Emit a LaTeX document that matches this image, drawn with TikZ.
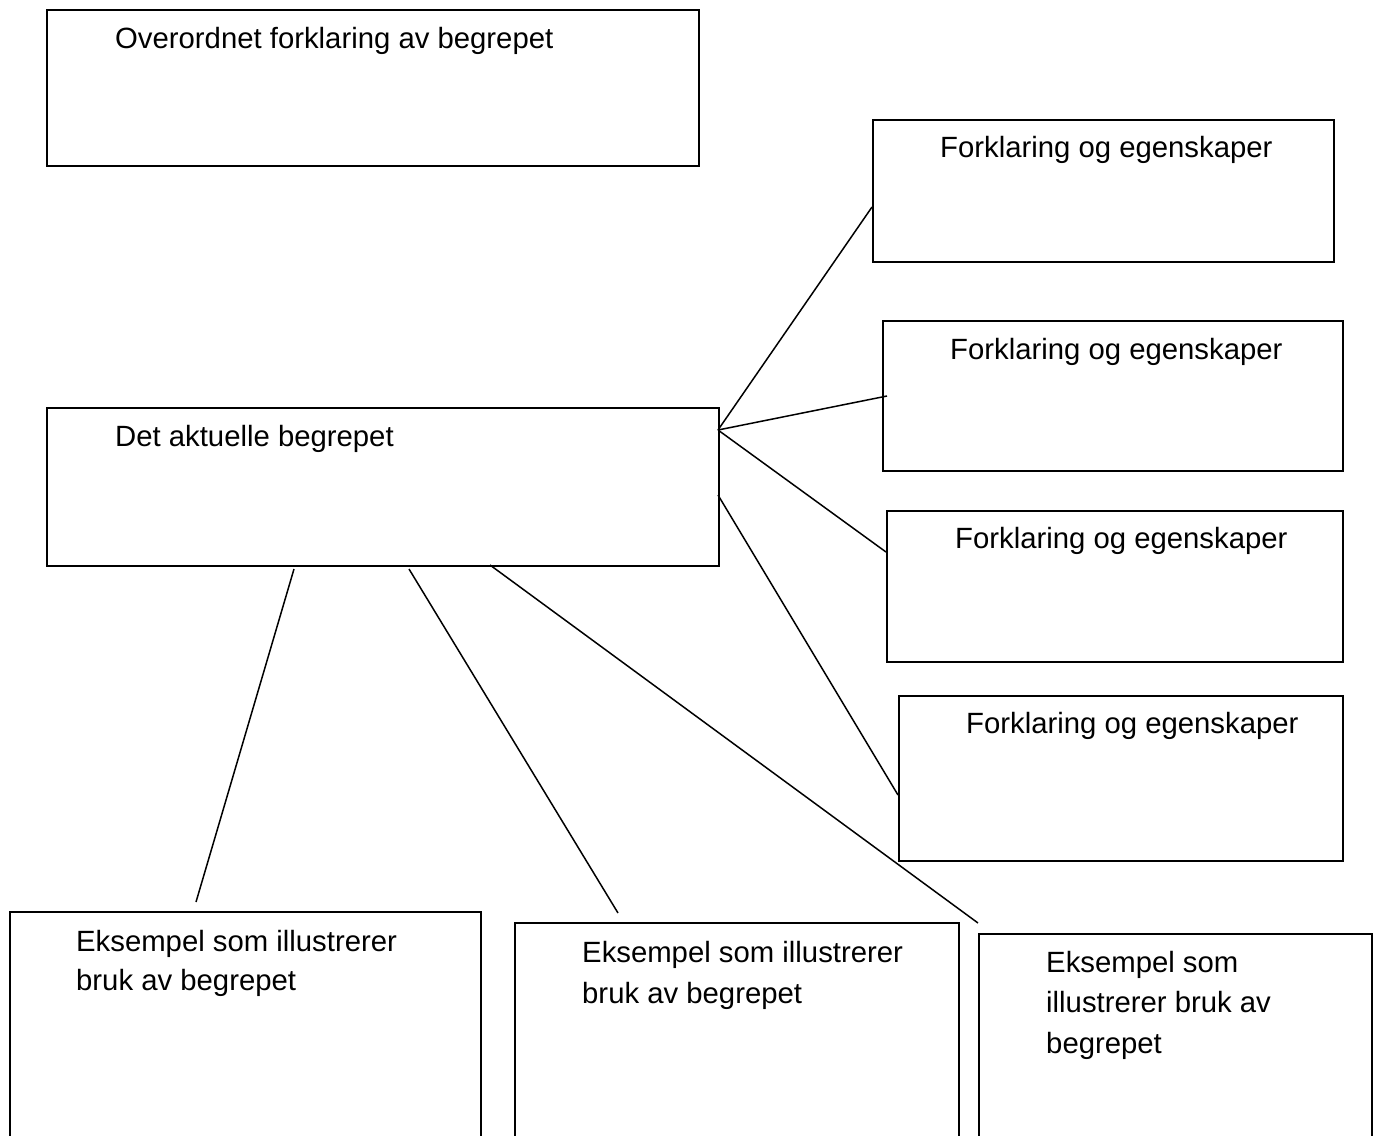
\documentclass[tikz,border=0pt]{standalone}
\usepackage{fontspec}
\setmainfont{Liberation Sans}
\begin{document}
\begin{tikzpicture}[x=1pt,y=-1pt,
  box/.style={draw, line width=1.5pt, inner sep=0pt, anchor=north west},
  lbl/.style={anchor=base west, inner sep=0pt, font=\fontsize{29.3}{35}\selectfont},
  conn/.style={line width=1.5pt}]
\useasboundingbox[fill=white] (0,0) rectangle (1380,1135);
% boxes
\node[box, minimum width=652pt, minimum height=156pt] (top) at (46,9) {};
\node[box, minimum width=461pt, minimum height=142pt] (f1) at (872,119) {};
\node[box, minimum width=460pt, minimum height=150pt] (f2) at (882,320) {};
\node[box, minimum width=456pt, minimum height=151pt] (f3) at (886,510) {};
\node[box, minimum width=444pt, minimum height=165pt] (f4) at (898,695) {};
\node[box, minimum width=672pt, minimum height=158pt] (mid) at (46,407) {};
\node[box, minimum width=471pt, minimum height=240pt] (e1) at (9,911) {};
\node[box, minimum width=444pt, minimum height=230pt] (e2) at (514,922) {};
\node[box, minimum width=393pt, minimum height=220pt] (e3) at (978,933) {};
% texts
\node[lbl] (ttop) at (115,48.5) {Overordnet forklaring av begrepet};
\node[lbl] (tf1) at (940,157.5) {Forklaring og egenskaper};
\node[lbl] (tf2) at (950,359.5) {Forklaring og egenskaper};
\node[lbl] (tf3) at (955,548.5) {Forklaring og egenskaper};
\node[lbl] (tf4) at (966,733.5) {Forklaring og egenskaper};
\node[lbl] (tmid) at (115,446.5) {Det aktuelle begrepet};
\node[lbl] (te1a) at (76,951.5) {Eksempel som illustrerer};
\node[lbl] (te1b) at (76,990.5) {bruk av begrepet};
\node[lbl] (te2a) at (582,962.5) {Eksempel som illustrerer};
\node[lbl] (te2b) at (582,1003.5) {bruk av begrepet};
\node[lbl] (te3a) at (1046,972.5) {Eksempel som};
\node[lbl] (te3b) at (1046,1012.5) {illustrerer bruk av};
\node[lbl] (te3c) at (1046,1053.5) {begrepet};
% connector end points
\coordinate (hubA) at (718,430);
\coordinate (hubB) at (718,495);
\coordinate (pf1) at (872,207);
\coordinate (pf2) at (887,396);
\coordinate (pf3) at (886,552);
\coordinate (pf4) at (898,795);
\coordinate (m1) at (294,569);
\coordinate (m2) at (409,569);
\coordinate (m3) at (490,565);
\coordinate (pe1) at (196,902);
\coordinate (pe2) at (618,913);
\coordinate (pe3) at (978,923);
% connectors
\draw[conn] (hubA) -- (pf1);
\draw[conn] (hubA) -- (pf2);
\draw[conn] (hubA) -- (pf3);
\draw[conn] (hubB) -- (pf4);
\draw[conn] (m1) -- (pe1);
\draw[conn] (m2) -- (pe2);
\draw[conn] (m3) -- (pe3);
\end{tikzpicture}
\end{document}
